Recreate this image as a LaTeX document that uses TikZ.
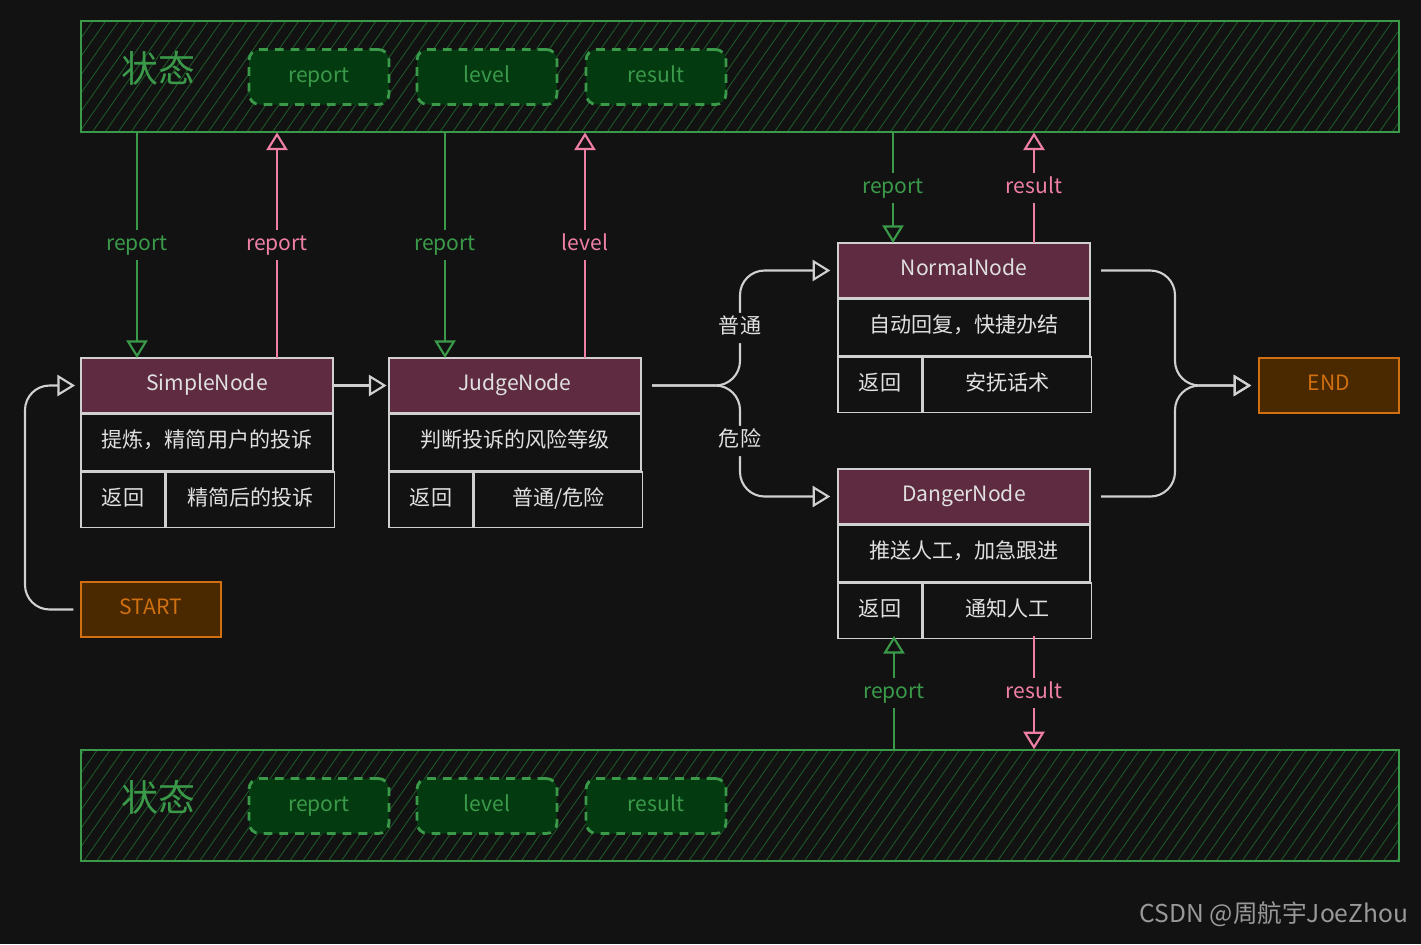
\documentclass[tikz,border=0pt]{standalone}
\usepackage{fontspec}
\setmainfont{Noto Sans CJK SC}
\usetikzlibrary{arrows.meta,positioning,calc,patterns.meta}
\definecolor{bg}{HTML}{121212}
\definecolor{stgreen}{HTML}{3A9A4A}
\definecolor{stfill}{HTML}{043A10}
\definecolor{hatch}{HTML}{1E5A28}
\definecolor{wpink}{HTML}{F07FA8}
\definecolor{hdrfill}{HTML}{5E2B40}
\definecolor{edge}{HTML}{D0D0D0}
\definecolor{txt}{HTML}{E0E0E0}
\definecolor{term}{HTML}{D07010}
\definecolor{termfill}{HTML}{4A2800}

\begin{document}
\begin{tikzpicture}[x=0.02cm,y=-0.02cm,
      every node/.style={font=\fontsize{12}{14}\selectfont,text height=1.6ex,text depth=.45ex},
      band/.style={rectangle,draw=stgreen,thick,pattern={Lines[angle=55,distance=6pt,line width=0.5pt]},
                   pattern color=hatch,minimum width=26.36cm,minimum height=2.22cm},
      field/.style={rectangle,draw=stgreen,fill=stfill,line width=1.6pt,dash pattern=on 5pt off 4pt,
                    rounded corners=6pt,minimum width=2.8cm,minimum height=1.1cm,text=stgreen},
      hdr/.style={rectangle,draw=edge,fill=hdrfill,thick,minimum width=5.04cm,minimum height=1.1cm,text=txt},
      cell/.style={rectangle,draw=edge,thick,minimum height=1.12cm,text=txt},
      term/.style={rectangle,draw=term,fill=termfill,thick,minimum width=2.8cm,minimum height=1.1cm,text=term},
      flow/.style={-{Triangle[open,length=10pt,width=12pt,line width=1.2pt]},edge,line width=1.2pt,rounded corners=14pt},
      rd/.style={-{Triangle[open,length=10pt,width=12pt,line width=1.2pt]},stgreen,line width=1.2pt},
      wr/.style={-{Triangle[open,length=10pt,width=12pt,line width=1.2pt]},wpink,line width=1.2pt},
      lbl/.style={fill=bg,inner sep=3pt}
    ]
    \fill[bg] (0,0) rectangle (1421,944);

    % State bands
    \node[band] (top) at (740,76.5) {};
    \node[band] (bot) at (740,805.5) {};
    \foreach \b/\y in {top/77,bot/806}{
      \node[text=stgreen,font=\fontsize{21}{24}\selectfont] (\b-name) at (158,\y) {状态};
      \node[field] (\b-report) at (319,\y) {report};
      \node[field] (\b-level) at (487,\y) {level};
      \node[field] (\b-result) at (656,\y) {result};
    }

    % Work nodes
    \node[hdr] (simple) at (207,385.5) {SimpleNode};
    \node[cell,minimum width=5.04cm,below=0pt of simple] (simple-do) {提炼，精简用户的投诉};
    \node[cell,minimum width=1.68cm,anchor=north west] (simple-ret) at (simple-do.south west) {返回};
    \node[cell,minimum width=3.36cm,anchor=north west] (simple-val) at (simple-ret.north east) {精简后的投诉};

    \node[hdr] (judge) at (515,385.5) {JudgeNode};
    \node[cell,minimum width=5.04cm,below=0pt of judge] (judge-do) {判断投诉的风险等级};
    \node[cell,minimum width=1.68cm,anchor=north west] (judge-ret) at (judge-do.south west) {返回};
    \node[cell,minimum width=3.36cm,anchor=north west] (judge-val) at (judge-ret.north east) {普通/危险};

    \node[hdr] (normal) at (964,270.5) {NormalNode};
    \node[cell,minimum width=5.04cm,below=0pt of normal] (normal-do) {自动回复，快捷办结};
    \node[cell,minimum width=1.68cm,anchor=north west] (normal-ret) at (normal-do.south west) {返回};
    \node[cell,minimum width=3.36cm,anchor=north west] (normal-val) at (normal-ret.north east) {安抚话术};

    \node[hdr] (danger) at (964,496.5) {DangerNode};
    \node[cell,minimum width=5.04cm,below=0pt of danger] (danger-do) {推送人工，加急跟进};
    \node[cell,minimum width=1.68cm,anchor=north west] (danger-ret) at (danger-do.south west) {返回};
    \node[cell,minimum width=3.36cm,anchor=north west] (danger-val) at (danger-ret.north east) {通知人工};

    \node[term] (start) at (151,609.5) {START};
    \node[term] (end) at (1329,385.5) {END};

    % Control flow
    \draw[flow] ([xshift=-4pt]start.west) -- (25,609.5) -- (25,385.5) -- ([xshift=-3pt]simple.west);
    \draw[flow] (simple.east) -- ([xshift=-1pt]judge.west);
    \draw[flow] ([xshift=6pt]judge.east) -- (740,385.5) -- node[lbl,text=txt,pos=0.5]{普通} (740,270.5) -- ([xshift=-4pt]normal.west);
    \draw[flow] ([xshift=6pt]judge.east) -- (740,385.5) -- node[lbl,text=txt,pos=0.5]{危险} (740,496.5) -- ([xshift=-4pt]danger.west);
    \draw[flow] ([xshift=6pt]normal.east) -- (1175,270.5) -- (1175,385.5) -- ([xshift=-4pt]end.west);
    \draw[flow] ([xshift=6pt]danger.east) -- (1175,496.5) -- (1175,385.5) -- ([xshift=-4pt]end.west);

    % State reads and writes
    \coordinate (sr) at (137,358); \coordinate (sw) at (277,358);
    \coordinate (jr) at (445,358); \coordinate (jw) at (585,358);
    \coordinate (nr) at (893,243); \coordinate (nw) at (1034,243);
    \coordinate (dr) at (894,636); \coordinate (dw) at (1034,636);
    \draw[rd] (top.south -| sr) -- node[lbl,pos=0.5]{report} (sr);
    \draw[wr] (sw) -- node[lbl,pos=0.5]{report} (top.south -| sw);
    \draw[rd] (top.south -| jr) -- node[lbl,pos=0.5]{report} (jr);
    \draw[wr] (jw) -- node[lbl,pos=0.5]{level} (top.south -| jw);
    \draw[rd] (top.south -| nr) -- node[lbl,pos=0.5]{report} (nr);
    \draw[wr] (nw) -- node[lbl,pos=0.5]{result} (top.south -| nw);
    \draw[rd] (bot.north -| dr) -- node[lbl,pos=0.5]{report} (dr);
    \draw[wr] (dw) -- node[lbl,pos=0.5]{result} (bot.north -| dw);

    \node[text=gray!80,font=\fontsize{14}{16}\selectfont] (mark) at (1274,917) {CSDN @周航宇JoeZhou};
  \end{tikzpicture}
\end{document}
